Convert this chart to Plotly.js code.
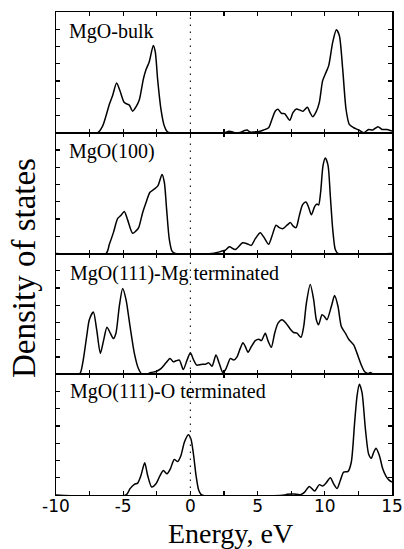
<!DOCTYPE html>
<html>
<head>
<meta charset="utf-8">
<script src="https://cdn.plot.ly/plotly-3.0.1.min.js"></script>
<style>html,body{margin:0;padding:0;background:#fff;}#chart{width:404px;height:549px;}</style>
</head>
<body>
<div id="chart"></div>
<script>
// Panel labels
const panelLabels = ["MgO-bulk", "MgO(100)", "MgO(111)-Mg terminated", "MgO(111)-O terminated"];
const xTickVals = [-10, -7.5, -5, -2.5, 0, 2.5, 5, 7.5, 10, 12.5, 15];
const xTickText = ["-10", "", "-5", "", "0", "", "5", "", "10", "", "15"];

// MgO-bulk
const energyBulk = [-10, -6.9, -6.53, -6.03, -5.78, -5.49, -5.24, -4.92, -4.67, -4.54, -4.30, -4.05, -3.80, -3.50, -3.30, -3.06, -2.76, -2.61, -2.44, -2.19, -1.94, -1.69, -1.44,
  2.2, 2.6, 2.85, 3.09, 3.35, 3.7, 4.0, 4.21, 4.45, 4.8, 5.1, 5.45, 5.82, 6.07, 6.32, 6.52, 6.77, 7.01, 7.39, 7.63, 7.88, 8.18, 8.38, 8.70, 8.90, 9.10, 9.35, 9.59, 9.84, 10.09, 10.29, 10.59, 10.86, 11.08, 11.33, 11.58, 11.82, 12.15, 12.52, 12.89, 13.26, 13.56, 13.96, 14.26, 14.63, 15.0];
const dosBulk = [0, 0, 0.39, 1.65, 2.18, 2.88, 2.43, 1.75, 1.65, 1.6, 1.25, 1.5, 1.91, 3.11, 3.66, 4.12, 5.06, 4.67, 3.11, 1.36, 0.39, 0.04, 0,
  0, 0.02, 0.08, 0.06, 0, 0.02, 0.12, 0.16, 0.04, 0.05, 0.07, 0.16, 0.29, 0.78, 1.26, 1.36, 1.13, 1.11, 0.72, 1.17, 1.38, 1.30, 1.25, 1.48, 1.17, 0.93, 1.21, 1.75, 3.02, 3.5, 3.89, 5.25, 5.97, 5.64, 3.70, 1.36, 0.49, 0.29, 0.16, 0, 0.19, 0.16, 0.35, 0.19, 0.19, 0.1];

// MgO(100)
const energy100 = [-10, -6.28, -6.03, -5.73, -5.41, -5.16, -4.92, -4.67, -4.30, -4.05, -3.85, -3.55, -3.30, -3.01, -2.68, -2.41, -2.11, -1.94, -1.77, -1.57, -1.37, -1.12,
  1.6, 2.0, 2.35, 2.60, 2.90, 3.34, 3.89, 4.21, 4.53, 4.83, 5.20, 5.53, 5.82, 6.07, 6.37, 6.62, 6.86, 7.19, 7.44, 7.63, 7.86, 8.10, 8.35, 8.60, 8.80, 9.00, 9.25, 9.42, 9.54, 9.69, 9.87, 10.04, 10.24, 10.41, 10.59, 10.78, 10.98, 15];
const dos100 = [0, 0, 0.53, 1.21, 2.03, 2.22, 2.44, 1.95, 1.17, 1.31, 1.50, 2.38, 2.96, 3.55, 3.74, 3.94, 4.58, 4.13, 2.57, 0.82, 0.14, 0,
  0, 0.06, 0.14, 0.19, 0.39, 0.23, 0.62, 0.57, 0.47, 0.86, 1.21, 0.86, 0.53, 1.01, 1.64, 1.50, 1.44, 1.64, 1.79, 1.60, 1.50, 2.18, 2.83, 2.98, 2.67, 2.24, 2.73, 2.87, 2.81, 3.55, 5.11, 5.54, 5.11, 3.35, 1.40, 0.23, 0, 0];

// MgO(111)-Mg terminated
const energy111Mg = [-10, -8.26, -8.02, -7.72, -7.52, -7.22, -6.97, -6.70, -6.45, -6.21, -5.96, -5.73, -5.54, -5.29, -5.04, -4.79, -4.49, -4.17, -3.87, -3.60, -3.25, -2.93, -2.56, -2.19, -1.82, -1.52, -1.27, -1.07, -0.82, -0.53, -0.25, 0.0, 0.22, 0.47, 0.79, 1.11, 1.36, 1.61, 1.90, 2.15, 2.40,
  2.60, 2.80, 2.97, 3.22, 3.47, 3.71, 3.91, 4.09, 4.29, 4.53, 4.83, 5.08, 5.28, 5.57, 5.77, 6.02, 6.27, 6.52, 6.82, 7.11, 7.44, 7.68, 7.93, 8.23, 8.43, 8.63, 8.92, 9.17, 9.37, 9.54, 9.79, 9.97, 10.16, 10.49, 10.73, 10.98, 11.23, 11.53, 11.78, 12.15, 12.40, 12.72, 12.97, 13.21, 13.39, 13.64, 15];
const dos111Mg = [0, 0, 0.62, 2.18, 3.16, 3.61, 2.57, 1.21, 1.99, 2.73, 2.38, 2.07, 2.38, 3.94, 4.97, 4.33, 2.77, 1.21, 0.33, 0, 0, 0.1, 0.16, 0.33, 0.66, 0.92, 0.72, 0.78, 0.82, 0.27, 0.82, 1.25, 0.86, 0.53, 0.57, 0.58, 0.66, 0.47, 1.11, 0.62, 0.12,
  0.25, 0.62, 0.92, 0.82, 1.01, 1.50, 1.83, 1.60, 1.27, 1.60, 1.95, 2.03, 1.95, 2.38, 1.95, 1.56, 2.38, 2.96, 3.16, 2.96, 2.61, 2.42, 2.38, 2.14, 2.77, 4.13, 5.20, 4.33, 3.16, 2.87, 3.45, 3.35, 3.16, 3.94, 4.56, 3.94, 2.77, 2.38, 2.03, 1.70, 1.21, 0.53, 0.14, 0.04, 0.1, 0, 0];

// MgO(111)-O terminated
const energy111O = [-10, -4.79, -4.49, -4.17, -3.92, -3.68, -3.40, -3.18, -2.88, -2.56, -2.26, -2.01, -1.74, -1.49, -1.20, -0.95, -0.70, -0.45, -0.15, 0.04, 0.24, 0.42, 0.62, 0.84,
  7.0, 7.19, 7.68, 8.18, 8.50, 8.85, 9.25, 9.59, 9.84, 10.09, 10.41, 10.66, 10.91, 11.16, 11.40, 11.73, 11.97, 12.22, 12.40, 12.57, 12.77, 13.02, 13.26, 13.46, 13.64, 13.81, 14.06, 14.31, 14.55, 14.80, 15.0];
const dos111O = [0, 0, 0.37, 0.62, 0.69, 1.13, 1.87, 1.13, 0.46, 0.65, 1.13, 1.42, 1.23, 1.52, 2.06, 1.94, 2.29, 3.06, 3.50, 3.25, 2.29, 1.13, 0.27, 0,
  0, 0.04, 0.06, 0.02, 0.17, 0.5, 0.23, 0.6, 0.52, 0.69, 1.0, 0.65, 0.37, 0.85, 1.33, 1.37, 1.90, 4.21, 5.75, 6.42, 5.94, 3.83, 2.38, 2.13, 2.48, 2.71, 2.29, 1.52, 1.10, 0.85, 0.75];

const energies = [energyBulk, energy100, energy111Mg, energy111O];
const dosSets = [dosBulk, dos100, dos111Mg, dos111O];

const traces = energies.map((e, i) => ({
  x: e, y: dosSets[i], type: 'scatter', mode: 'lines',
  xaxis: i === 0 ? 'x' : 'x' + (i + 1), yaxis: i === 0 ? 'y' : 'y' + (i + 1),
  line: {color: '#000', width: 1.5, shape: 'spline', smoothing: 0.7},
  hoverinfo: 'skip', showlegend: false
}));

const layout = {
  width: 404, height: 549,
  margin: {l: 56, r: 12, t: 12, b: 54},
  paper_bgcolor: '#fff', plot_bgcolor: '#fff',
  showlegend: false,
  shapes: [{type: 'line', xref: 'x4', yref: 'paper', x0: 0, x1: 0, y0: 0, y1: 1,
    line: {color: '#222', width: 1.2, dash: '1.5px,5.5px'}}],
  annotations: []
};
const domains = [[0.75, 1], [0.5, 0.75], [0.25, 0.5], [0, 0.25]];
for (let i = 0; i < 4; i++) {
  const xk = i === 0 ? 'xaxis' : 'xaxis' + (i + 1);
  const yk = i === 0 ? 'yaxis' : 'yaxis' + (i + 1);
  layout[xk] = {
    range: [-10, 15], anchor: i === 0 ? 'y' : 'y' + (i + 1),
    tickmode: 'array', tickvals: xTickVals, ticktext: xTickText,
    ticks: 'inside', ticklen: 4, tickwidth: 1.2, tickcolor: '#000',
    mirror: 'ticks', showline: true, linewidth: 1, linecolor: '#000',
    showgrid: false, zeroline: false, fixedrange: true,
    showticklabels: i === 3, ticklabelstandoff: -4,
    tickfont: {family: 'DejaVu Sans', size: 17, color: '#000'}
  };
  if (i > 0) layout[xk].matches = 'x';
  layout[yk] = {
    domain: domains[i], anchor: i === 0 ? 'x' : 'x' + (i + 1),
    range: [0, 7], dtick: 1, tick0: 0,
    ticks: 'inside', ticklen: 4, tickwidth: 1.2, tickcolor: '#000',
    mirror: 'ticks', showline: true, linewidth: 1.5, linecolor: '#000',
    showgrid: false, zeroline: false, showticklabels: false, fixedrange: true
  };
}
const labelY = [31.5, 151, 273, 391];
const labelX = [67, 67, 68, 68];
panelLabels.forEach((t, i) => {
  layout.annotations.push({
    text: t, xref: 'paper', yref: 'paper',
    x: (labelX[i] - 56) / 336, y: (495 - labelY[i]) / 483,
    xanchor: 'left', yanchor: 'middle', showarrow: false,
    font: {family: 'Liberation Serif', size: 20, color: '#000'}
  });
});
layout.annotations.push({
  text: 'Density of states', xref: 'paper', yref: 'paper',
  x: (24 - 56) / 336, y: (495 - 268) / 483, xanchor: 'center', yanchor: 'middle',
  textangle: -90, showarrow: false,
  font: {family: 'Liberation Serif', size: 33, color: '#000'}
});
layout.annotations.push({
  text: 'Energy, eV', xref: 'paper', yref: 'paper',
  x: (230 - 56) / 336, y: (495 - 533) / 483, xanchor: 'center', yanchor: 'middle',
  showarrow: false, borderpad: 0,
  font: {family: 'Liberation Serif', size: 28, color: '#000'}
});

Plotly.newPlot('chart', traces, layout, {staticPlot: true, displayModeBar: false});
</script>
</body>
</html>
